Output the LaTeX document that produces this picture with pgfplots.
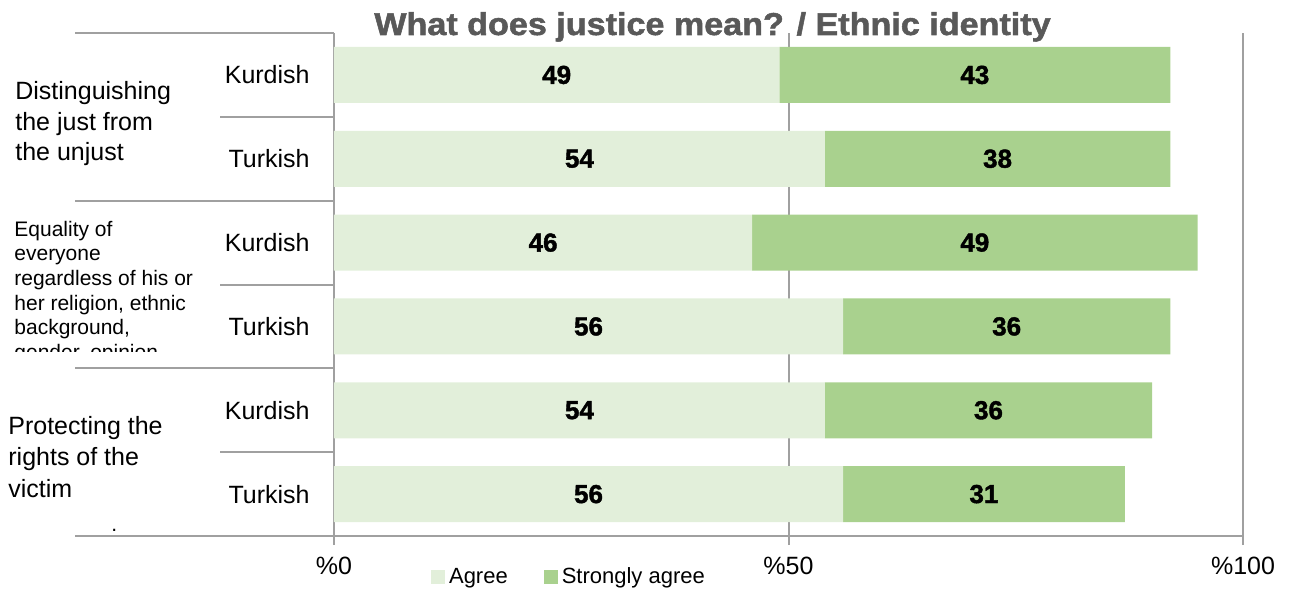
\documentclass[border=0pt]{standalone}
\usepackage{fontspec}
\setmainfont{Liberation Sans}
\newfontfamily\heavy{Liberation Sans Bold}[FakeBold=1.6]
\usepackage{pgfplots}
\pgfplotsset{compat=1.18}
\definecolor{agreec}{HTML}{E2EFDA}
\definecolor{strongc}{HTML}{A9D18E}
\definecolor{linec}{HTML}{A0A0A0}
\definecolor{titlec}{HTML}{595959}
\newcommand{\fs}[1]{\fontsize{#1}{#1}\selectfont}
\begin{document}
\begin{tikzpicture}
\path[use as bounding box] (0,0) rectangle (645pt,295pt);
\begin{axis}[
  at={(167pt,27pt)}, anchor=south west,
  scale only axis, width=454.5pt, height=251.5pt,
  xbar stacked, bar width=28pt,
  xmin=0, xmax=100, ymin=-0.5, ymax=5.5, y dir=reverse,
  axis x line*=bottom, axis y line*=left,
  axis line style={draw=linec, line width=1pt, -},
  xtick={0,50,100}, xticklabels={\%0,\%50,\%100},
  xmajorgrids, major grid style={draw=linec, line width=1pt},
  x tick style={draw=linec, line width=1pt},
  tick align=outside, major tick length=4.5pt,
  /pgf/number format/assume math mode=true,
  xticklabel style={font=\fs{12.5pt}, inner sep=0pt, anchor=north, yshift=-6pt},
  ytick={0,1,2,3,4,5},
  yticklabels={Kurdish,Turkish,Kurdish,Turkish,Kurdish,Turkish},
  y tick style={draw=none},
  yticklabel style={font=\fs{12.5pt}, inner sep=0pt, anchor=east, xshift=-7.5pt},
  clip=false,
  legend style={at={(0.2596,-0.0815)}, anchor=center, draw=none, fill=none,
    legend columns=2, font=\fs{11pt},
    /tikz/every even column/.append style={column sep=16pt}},
  legend image code/.code={\fill[#1] (0pt,-3.5pt) rectangle (7pt,3.5pt);},
  nodes near coords,
  every node near coord/.append style={font=\heavy\fs{13pt}, text=black, anchor=center},
]
\addplot[draw=none, fill=agreec] coordinates {(49,0) (54,1) (46,2) (56,3) (54,4) (56,5)};
\addplot[draw=none, fill=strongc] coordinates {(43,0) (38,1) (49,2) (36,3) (36,4) (31,5)};
\legend{Agree, Strongly agree}
\draw[linec, line width=1pt] (axis cs:0,-0.5) -- ([xshift=-129.5pt]axis cs:0,-0.5);
\draw[linec, line width=1pt] (axis cs:0,1.5) -- ([xshift=-129.5pt]axis cs:0,1.5);
\draw[linec, line width=1pt] (axis cs:0,3.5) -- ([xshift=-129.5pt]axis cs:0,3.5);
\draw[linec, line width=1pt] (axis cs:0,5.5) -- ([xshift=-129.5pt]axis cs:0,5.5);
\draw[linec, line width=1pt] (axis cs:0,0.5) -- ([xshift=-57pt]axis cs:0,0.5);
\draw[linec, line width=1pt] (axis cs:0,2.5) -- ([xshift=-57pt]axis cs:0,2.5);
\draw[linec, line width=1pt] (axis cs:0,4.5) -- ([xshift=-57pt]axis cs:0,4.5);
\end{axis}
% title
\node[anchor=base, text=titlec, inner sep=0pt] at (356.25pt,277.5pt)
  {\scalebox{1.08}[1]{\heavy\fs{15.8pt}What does justice mean? / Ethnic identity}};
\begin{scope}[every node/.style={anchor=base west, inner sep=0pt, font=\fs{12.5pt}}]
\node at (7.5pt,245pt) {Distinguishing};
\node at (7.5pt,229.75pt) {the just from};
\node at (7.5pt,214.5pt) {the unjust};
\node at (4pt,78pt) {Protecting the};
\node at (4pt,62.25pt) {rights of the};
\node at (4pt,46.5pt) {victim};
\end{scope}
\begin{scope}[every node/.style={anchor=base west, inner sep=0pt, font=\fs{10.5pt}}]
\node at (7pt,176.75pt) {Equality of};
\node at (7pt,164.5pt) {everyone};
\node at (7pt,152.25pt) {regardless of his or};
\node at (7pt,140pt) {her religion, ethnic};
\node at (7pt,127.75pt) {background,};
\begin{scope}
\clip (0pt,119.5pt) rectangle (120pt,130pt);
\node at (7pt,115.5pt) {gender, opinion};
\end{scope}
\node at (55.5pt,29.5pt) {.};
\end{scope}
\end{tikzpicture}
\end{document}
